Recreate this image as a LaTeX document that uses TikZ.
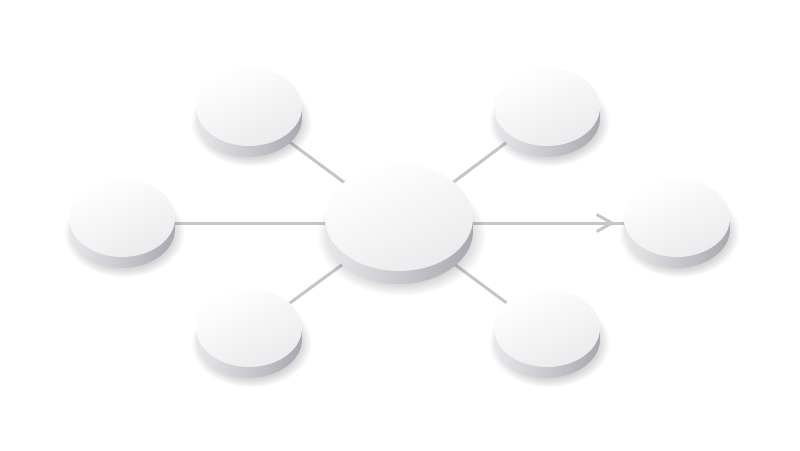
\documentclass[tikz,border=0pt]{standalone}
\usetikzlibrary{shapes.geometric,arrows.meta,backgrounds,decorations.markings,shadows,fadings}

\definecolor{linegray}{HTML}{C6C6C6}
\definecolor{sidelight}{HTML}{E8E8EC}
\definecolor{sidedark}{HTML}{A8A8B0}
\definecolor{facegray}{HTML}{EBEBED}

\tikzset{
  disc/.style={ellipse, inner sep=0pt, draw=none,
    general shadow={fill=black, fill opacity=0.16, shadow scale=1.14, shadow xshift=2pt, shadow yshift=-#1-2pt,
      path fading=circle with fuzzy edge 20 percent},
    preaction={left color=sidelight, right color=sidedark, transform canvas={yshift=-#1/2}},
    preaction={left color=sidelight, right color=sidedark, transform canvas={yshift=-#1}},
    top color=white, bottom color=facegray, shading angle=25},
  main node/.style={disc=11pt, minimum width=106pt, minimum height=78pt},
  hub node/.style={disc=13pt, minimum width=148pt, minimum height=106pt},
  link/.style={draw=linegray, line width=3pt, transform canvas={yshift=-5pt}},
  arrow link/.style={postaction={decorate},
    decoration={markings, mark=at position -9pt with {\arrow{Straight Barb[length=15pt,width=17pt]}}}}
}

\begin{document}
\begin{tikzpicture}[x=1pt,y=-1pt]
\useasboundingbox (0,0) rectangle (800,450);

\node[hub node] (c) at (399,218) {};
\node[main node] (tl) at (249,107) {};
\node[main node] (tr) at (547,107) {};
\node[main node] (l) at (122,218) {};
\node[main node] (r) at (677,218) {};
\node[main node] (bl) at (249,328) {};
\node[main node] (br) at (547,328) {};

\begin{scope}[on background layer]
\fill[white] (0,0) rectangle (800,450);
\path[link]
(c) edge (tl)
(c) edge (tr)
(l) edge (c)
(c) edge (bl)
(c) edge (br)
(c) edge[arrow link] (r);
\end{scope}
\end{tikzpicture}
\end{document}
